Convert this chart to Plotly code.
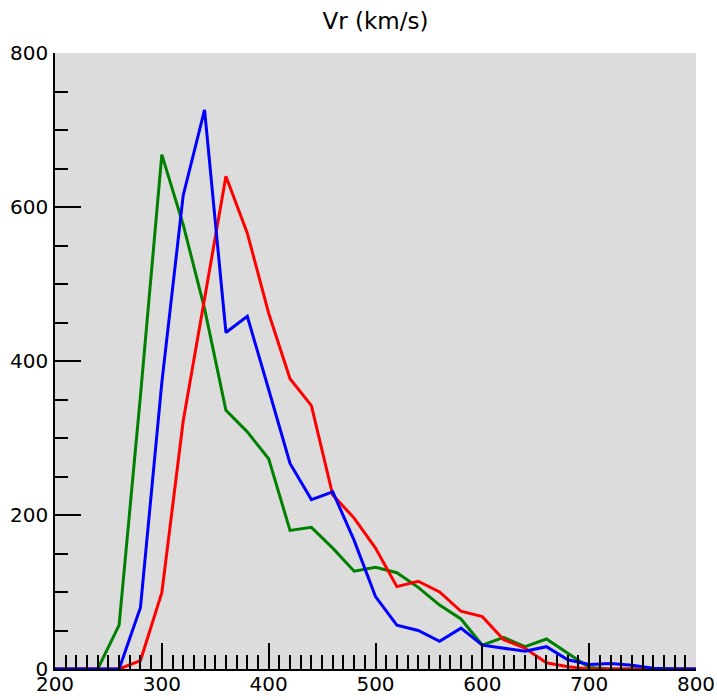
import plotly.graph_objects as go

vr_bins = [200, 220, 240, 260, 280, 300, 320, 340, 360, 380, 400, 420, 440, 460, 480,
           500, 520, 540, 560, 580, 600, 620, 640, 660, 680, 700, 720, 740, 760, 780, 800]

green_counts = [0, 0, 0, 57, 355, 668, 577, 468, 336, 308, 273, 180, 184, 157, 127,
                132, 125, 106, 83, 65, 31, 41, 29, 39, 20, 2, 0, 0, 0, 0, 0]
red_counts = [0, 0, 0, 0, 11, 99, 322, 481, 640, 566, 462, 377, 342, 226, 196,
              157, 107, 114, 100, 75, 68, 38, 27, 8, 3, 0, 0, 0, 0, 0, 0]
blue_counts = [0, 0, 0, 0, 80, 372, 615, 726, 437, 458, 363, 267, 220, 230, 167,
               94, 57, 50, 36, 53, 31, 27, 23, 29, 12, 6, 7, 5, 1, 0, 0]

x_ticks = [200, 300, 400, 500, 600, 700, 800]
y_ticks = [0, 200, 400, 600, 800]

fig = go.Figure()
for vals, col in [(green_counts, "#008000"), (red_counts, "#FF0000"), (blue_counts, "#0000FF")]:
    fig.add_trace(go.Scatter(x=vr_bins, y=vals, mode="lines",
                             line=dict(color=col, width=3), showlegend=False,
                             hoverinfo="skip"))

font = dict(family="DejaVu Sans", size=20, color="black")
fig.update_layout(
    width=717, height=700,
    margin=dict(l=55, r=21, t=53, b=31, autoexpand=False),
    paper_bgcolor="white", plot_bgcolor="#DCDCDC",
    font=font,
    title=dict(text="Vr (km/s)", x=0.5, xref="paper", xanchor="center",
               y=1 - 21 / 700, yref="container", yanchor="middle",
               font=dict(family="DejaVu Sans", size=23, color="black")),
    xaxis=dict(range=[200, 800], tickvals=x_ticks, ticks="inside", ticklen=26,
               tickwidth=1.5, tickcolor="black", showline=True, linecolor="black",
               linewidth=1.5, showgrid=False, zeroline=False, automargin=False,
               tickfont=font, ticklabelstandoff=-4,
               minor=dict(dtick=10, tick0=200, ticks="inside", ticklen=14,
                          tickwidth=1.5, tickcolor="black", showgrid=False)),
    yaxis=dict(range=[0, 800], tickvals=y_ticks, ticks="inside", ticklen=26,
               tickwidth=1.5, tickcolor="black", showline=True, linecolor="black",
               linewidth=1.5, showgrid=False, zeroline=False, automargin=False,
               tickfont=font, ticklabelstandoff=1,
               minor=dict(dtick=50, tick0=0, ticks="inside", ticklen=13,
                          tickwidth=1.5, tickcolor="black", showgrid=False)),
)

fig.write_html("out.html")
